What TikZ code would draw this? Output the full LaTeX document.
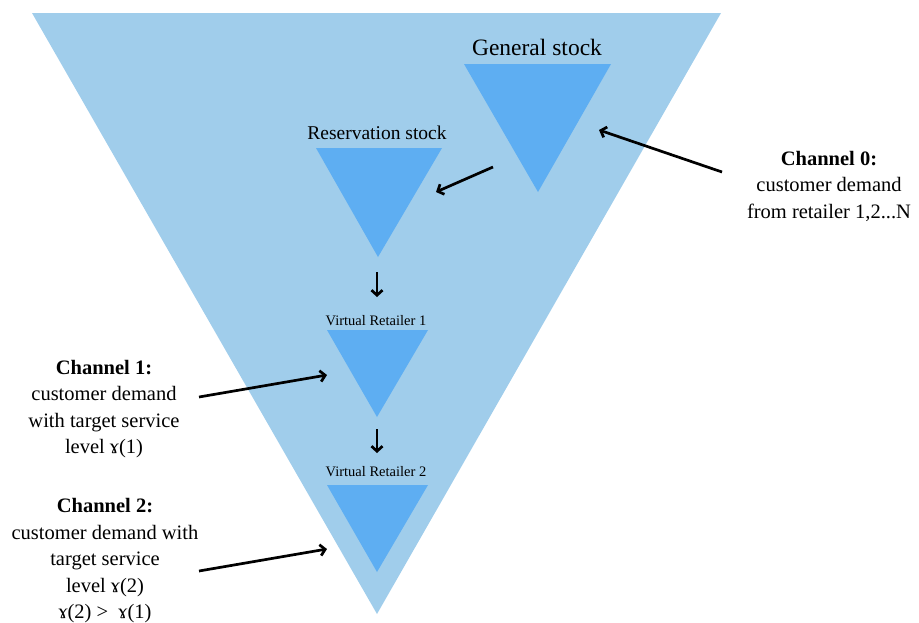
\documentclass[tikz,border=0pt]{standalone}
\usepackage{fontspec}
\setmainfont{LiberationSerif-Regular.ttf}[BoldFont=LiberationSerif-Bold.ttf,ItalicFont=LiberationSerif-Italic.ttf]
\usetikzlibrary{arrows.meta}
\definecolor{outerblue}{HTML}{A0CDEB}
\definecolor{innerblue}{HTML}{5EAEF2}
\begin{document}
\begin{tikzpicture}[x=1pt,y=-1pt,
  outer/.style={fill=outerblue},
  inner/.style={fill=innerblue},
  flow/.style={line width=2.7pt,-{Straight Barb[length=5pt,width=11pt]}},
  stocklabel/.style={inner sep=0pt,anchor=center},
  chan/.style={align=center,inner sep=0pt,font=\fontsize{20.5}{26.5}\selectfont}]
\useasboundingbox (0,0) rectangle (919,622);

% whole inventory
\fill[outer] (32,13) -- (721,13) -- (377,614) -- cycle;

% stock levels
\fill[inner] (464,64) -- (611,64) -- (538,192) -- cycle;
\fill[inner] (316,148) -- (442,148) -- (378,257) -- cycle;
\fill[inner] (327,330) -- (428,330) -- (377,417) -- cycle;
\fill[inner] (327,485) -- (428,485) -- (377,572) -- cycle;

\node[stocklabel,font=\fontsize{23.5}{28}\selectfont] (gen) at (537,47) {General stock};
\node[stocklabel,font=\fontsize{19.5}{24}\selectfont] (res) at (377,133) {Reservation stock};
\node[stocklabel,font=\fontsize{14.5}{18}\selectfont] (vr1) at (376,321) {Virtual Retailer 1};
\node[stocklabel,font=\fontsize{14.5}{18}\selectfont] (vr2) at (376,472) {Virtual Retailer 2};

% channel descriptions
\node[chan] (ch0) at (829,186) {\textbf{Channel 0:}\\customer demand\\from retailer 1,2...N};
\node[chan] (ch1) at (104,409) {\textbf{Channel 1:}\\customer demand\\with target service\\level ɤ(1)};
\node[chan] (ch2) at (105,561) {\textbf{Channel 2:}\\customer demand with\\target service\\level ɤ(2)\\ɤ(2) >\ \ ɤ(1)};

% arrow end points
\coordinate (c0s) at (722,172);
\coordinate (c0e) at (599,130);
\coordinate (gs) at (493,167);
\coordinate (re) at (436,192);
\coordinate (d1s) at (377,272);
\coordinate (d1e) at (377,297);
\coordinate (d2s) at (377,429);
\coordinate (d2e) at (377,453);
\coordinate (c1s) at (199,397);
\coordinate (c1e) at (327,375);
\coordinate (c2s) at (199,571);
\coordinate (c2e) at (327,549);

\draw[flow] (c0s) -- (c0e);
\draw[flow] (gs) -- (re);
\draw[flow] (d1s) -- (d1e);
\draw[flow] (d2s) -- (d2e);
\draw[flow] (c1s) -- (c1e);
\draw[flow] (c2s) -- (c2e);
\end{tikzpicture}
\end{document}
